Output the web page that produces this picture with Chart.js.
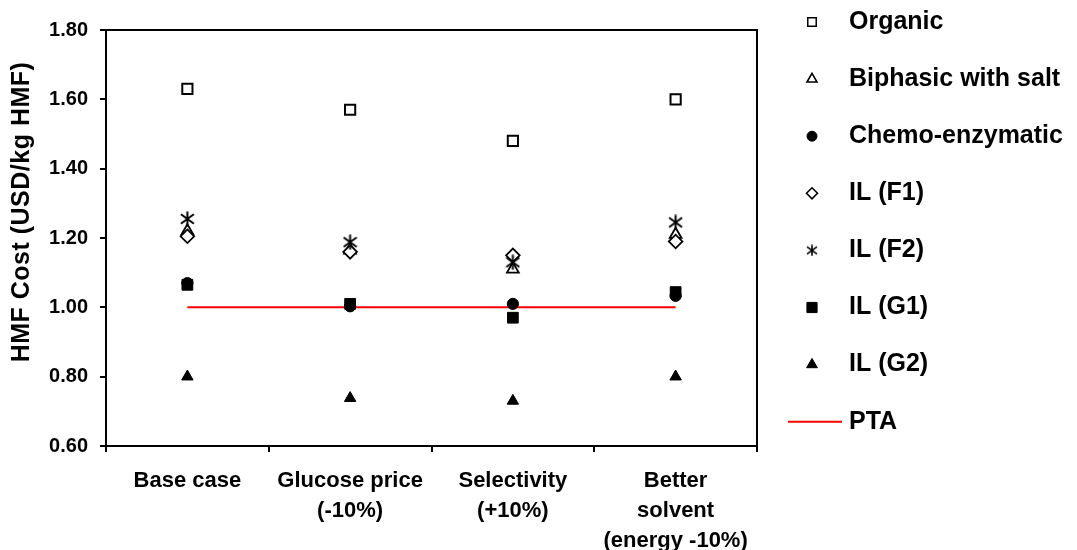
<!DOCTYPE html>
<html>
<head>
<meta charset="utf-8">
<script src="https://cdn.jsdelivr.net/npm/chart.js@4/dist/chart.umd.min.js"></script>
<style>
  html, body { margin: 0; padding: 0; background: #fff; }
  #wrap { width: 1077px; height: 550px; }
</style>
</head>
<body>
<div id="wrap"><canvas id="c" width="1077" height="550"></canvas></div>
<script>
// Scenario categories (multi-line labels)
const categories = [
  ['Base case'],
  ['Glucose price', '(-10%)'],
  ['Selectivity', '(+10%)'],
  ['Better', 'solvent', '(energy -10%)']
];

// HMF production cost per process route, USD/kg HMF
const organic  = [1.63, 1.57, 1.48, 1.60];
const biphasic = [1.22, 1.165, 1.11, 1.21];
const chemo    = [1.07, 1.003, 1.01, 1.033];
const ilF1     = [1.205, 1.16, 1.15, 1.19];
const ilF2     = [1.255, 1.188, 1.13, 1.245];
const ilG1     = [1.065, 1.01, 0.97, 1.044];
const ilG2     = [0.80, 0.738, 0.73, 0.80];
// PTA reference price
const pta      = [1.00, 1.00, 1.00, 1.00];

// Y axis range and step
const yMin = 0.6, yMax = 1.8, yStep = 0.2;
const yTitle = 'HMF Cost (USD/kg HMF)';

const FONT = "'Liberation Sans', Arial, Helvetica, sans-serif";

// Asterisk marker (X with a vertical stroke)
function makeAsterisk(w, h, lw) {
  const c = document.createElement('canvas');
  c.width = w; c.height = h;
  const g = c.getContext('2d');
  g.strokeStyle = '#000';
  g.lineWidth = lw;
  g.beginPath();
  g.moveTo(w / 2, 0.5); g.lineTo(w / 2, h - 0.5);
  g.moveTo(1, h * 0.2); g.lineTo(w - 1, h * 0.8);
  g.moveTo(w - 1, h * 0.2); g.lineTo(1, h * 0.8);
  g.stroke();
  return c;
}
const starBig = makeAsterisk(15, 16, 2);
const starSmall = makeAsterisk(12, 12, 1.6);

const series = [
  { label: 'Organic', data: organic, style: 'rect', r: 7.2, bg: '#fff', bw: 2, lr: 6, lbw: 1.5 },
  { label: 'Biphasic with salt', data: biphasic, style: 'triangle', r: 6.8, bg: '#fff', bw: 1.8, lr: 5.8, lbw: 1.6 },
  { label: 'Chemo-enzymatic', data: chemo, style: 'circle', r: 5.6, bg: '#000', bw: 1, lr: 5, lbw: 1 },
  { label: 'IL (F1)', data: ilF1, style: 'rectRot', r: 6.8, bg: '#fff', bw: 1.8, lr: 5.5, lbw: 1.6 },
  { label: 'IL (F2)', data: ilF2, style: starBig, r: 7, bg: '#000', bw: 0, lstyle: starSmall, lr: 6, lbw: 0 },
  { label: 'IL (G1)', data: ilG1, style: 'rect', r: 7.6, bg: '#000', bw: 1, lr: 7.2, lbw: 1 },
  { label: 'IL (G2)', data: ilG2, style: 'triangle', r: 6.6, bg: '#000', bw: 1, lr: 6.2, lbw: 1 }
];

const datasets = series.map((s, i) => ({
  label: s.label,
  data: s.data,
  showLine: false,
  pointStyle: s.style,
  pointRadius: s.r,
  pointHoverRadius: s.r,
  pointBackgroundColor: s.bg,
  pointBorderColor: '#000',
  pointBorderWidth: s.bw,
  borderColor: '#000',
  backgroundColor: s.bg,
  order: series.length - i
}));

datasets.push({
  label: 'PTA',
  data: pta,
  borderColor: '#ff0000',
  borderWidth: 2,
  pointRadius: 0,
  pointHoverRadius: 0,
  fill: false,
  tension: 0,
  order: 20
});

// Plot frame
const framePlugin = {
  id: 'frame',
  beforeDatasetsDraw(chart) {
    const { ctx, chartArea: a } = chart;
    ctx.save();
    ctx.strokeStyle = '#000';
    ctx.lineWidth = 2;
    ctx.strokeRect(a.left, a.top, a.right - a.left, a.bottom - a.top);
    ctx.restore();
  }
};

// Rotated y-axis title
const yTitlePlugin = {
  id: 'yTitle',
  afterDraw(chart) {
    const ctx = chart.ctx;
    ctx.save();
    ctx.translate(22, 212);
    ctx.rotate(-Math.PI / 2);
    ctx.font = 'bold 25px ' + FONT;
    if ('letterSpacing' in ctx) ctx.letterSpacing = '0.5px';
    ctx.fillStyle = '#000';
    ctx.textAlign = 'center';
    ctx.textBaseline = 'middle';
    ctx.fillText(yTitle, 0, 0);
    ctx.restore();
  }
};

// Legend on the right side
const legendPlugin = {
  id: 'sideLegend',
  afterDraw(chart) {
    const ctx = chart.ctx;
    const markerX = 812, textX = 849, y0 = 22, dy = 57.1;
    ctx.save();
    ctx.font = 'bold 25px ' + FONT;
    ctx.textBaseline = 'middle';
    ctx.textAlign = 'left';
    series.forEach((s, i) => {
      const y = y0 + i * dy;
      ctx.fillStyle = s.bg;
      ctx.strokeStyle = '#000';
      ctx.lineWidth = s.lbw;
      Chart.helpers.drawPoint(ctx, {
        pointStyle: s.lstyle || s.style,
        radius: s.lr,
        rotation: 0,
        borderWidth: s.lbw
      }, markerX, y);
      ctx.fillStyle = '#000';
      ctx.fillText(s.label, textX, y);
    });
    const yp = y0 + series.length * dy;
    ctx.strokeStyle = '#ff0000';
    ctx.lineWidth = 2;
    ctx.beginPath();
    ctx.moveTo(788, yp);
    ctx.lineTo(842, yp);
    ctx.stroke();
    ctx.fillStyle = '#000';
    ctx.fillText('PTA', textX, yp);
    ctx.restore();
  }
};

new Chart(document.getElementById('c'), {
  type: 'line',
  data: { labels: categories, datasets },
  options: {
    responsive: false,
    animation: false,
    events: [],
    layout: { padding: { left: 0, right: 320, top: 30, bottom: 0 } },
    plugins: {
      legend: { display: false },
      tooltip: { enabled: false }
    },
    scales: {
      x: {
        type: 'category',
        offset: true,
        border: { display: false },
        grid: {
          offset: true,
          drawOnChartArea: false,
          drawTicks: true,
          tickLength: 6,
          color: '#000',
          lineWidth: 2
        },
        ticks: {
          color: '#000',
          font: { family: FONT, size: 22, weight: 'bold', lineHeight: '30px' },
          padding: 14,
          maxRotation: 0,
          autoSkip: false
        },
        afterFit(scale) { scale.height = 104; }
      },
      y: {
        min: yMin,
        max: yMax,
        border: { display: false },
        grid: {
          drawOnChartArea: false,
          drawTicks: true,
          tickLength: 6,
          color: '#000',
          lineWidth: 2
        },
        ticks: {
          stepSize: yStep,
          color: '#000',
          font: { family: FONT, size: 20, weight: 'bold' },
          padding: 12,
          callback: v => Number(v).toFixed(2)
        },
        afterFit(scale) { scale.width = 106; }
      }
    }
  },
  plugins: [framePlugin, yTitlePlugin, legendPlugin]
});
</script>
</body>
</html>
